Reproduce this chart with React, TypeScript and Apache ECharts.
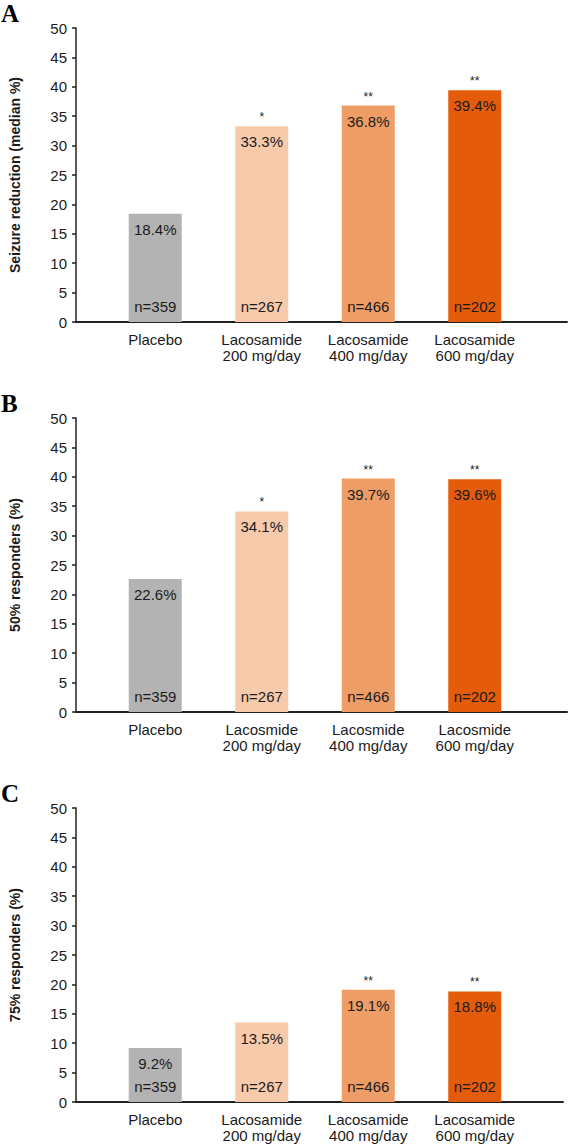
import React, { useEffect, useRef } from "react";
import * as echarts from "echarts";

const panelLetters = ["A", "B", "C"];
const yTitles = ["Seizure reduction (median %)", "50% responders (%)", "75% responders (%)"];
const categoriesA = ["Placebo", "Lacosamide\n200 mg/day", "Lacosamide\n400 mg/day", "Lacosamide\n600 mg/day"];
const categoriesB = ["Placebo", "Lacosmide\n200 mg/day", "Lacosmide\n400 mg/day", "Lacosmide\n600 mg/day"];
const categoriesC = ["Placebo", "Lacosamide\n200 mg/day", "Lacosamide\n400 mg/day", "Lacosamide\n600 mg/day"];
const valuesA = [18.4, 33.3, 36.8, 39.4];
const valuesB = [22.6, 34.1, 39.7, 39.6];
const valuesC = [9.2, 13.5, 19.1, 18.8];
const sampleSizes = ["n=359", "n=267", "n=466", "n=202"];
const starsA = ["", "*", "**", "**"];
const starsB = ["", "*", "**", "**"];
const starsC = ["", "", "**", "**"];
const yTicks = { min: 0, max: 50, interval: 5 };
const barColors = ["#b3b3b3", "#f8caac", "#ee9d66", "#e35b0b"];

const FONT = '"Liberation Sans", Arial, sans-serif';
const TEXT = "#1a1a1a";

export default function App() {
  const ref = useRef<HTMLDivElement>(null);

  useEffect(() => {
    if (!ref.current) return;
    const chart = echarts.init(ref.current, undefined, { renderer: "svg" });

    const panels = [
      { cats: categoriesA, vals: valuesA, stars: starsA, axisWidth: 504 },
      { cats: categoriesB, vals: valuesB, stars: starsB, axisWidth: 504 },
      { cats: categoriesC, vals: valuesC, stars: starsC, axisWidth: 500 },
    ];
    const step = 390;
    const top0 = 28;
    const h = 294;

    const grid: any[] = [];
    const xAxis: any[] = [];
    const yAxis: any[] = [];
    const series: any[] = [];
    const graphic: any[] = [];

    panels.forEach((p, k) => {
      const top = top0 + k * step;
      grid.push({ left: 63, top, width: p.axisWidth, height: h });
      grid.push({ left: 102, top, width: 426, height: h });

      xAxis.push({
        gridIndex: 2 * k,
        type: "value",
        min: 0,
        max: 1,
        axisLine: { show: true, lineStyle: { color: "#222", width: 2 } },
        axisTick: { show: false },
        axisLabel: { show: false },
        splitLine: { show: false },
      });
      xAxis.push({
        gridIndex: 2 * k + 1,
        type: "category",
        data: p.cats,
        axisLine: { show: false },
        axisTick: { show: false },
        axisLabel: {
          fontFamily: FONT,
          fontSize: 15,
          lineHeight: 16,
          color: TEXT,
          margin: 9,
          interval: 0,
        },
      });
      yAxis.push({
        gridIndex: 2 * k,
        type: "value",
        min: yTicks.min,
        max: yTicks.max,
        interval: yTicks.interval,
        name: yTitles[k],
        nameLocation: "middle",
        nameGap: 54,
        nameTextStyle: { fontFamily: FONT, fontSize: 14, fontWeight: "bold", color: TEXT },
        axisLine: { show: true, lineStyle: { color: "#222", width: 1.5 } },
        axisTick: { show: true, inside: false, length: 4, lineStyle: { color: "#222", width: 1.5 } },
        axisLabel: { fontFamily: FONT, fontSize: 15, color: TEXT, margin: 9 },
        splitLine: { show: false },
      });
      yAxis.push({
        gridIndex: 2 * k + 1,
        type: "value",
        min: yTicks.min,
        max: yTicks.max,
        interval: yTicks.interval,
        show: false,
      });

      const common = {
        type: "bar",
        xAxisIndex: 2 * k + 1,
        yAxisIndex: 2 * k + 1,
        barWidth: 53,
        barGap: "-100%",
        silent: true,
      };
      series.push({
        ...common,
        z: 2,
        data: p.vals.map((v, i) => ({ value: v, itemStyle: { color: barColors[i] } })),
        label: {
          show: true,
          position: "insideTop",
          distance: 8,
          fontFamily: FONT,
          fontSize: 15,
          color: TEXT,
          formatter: (d: any) => `${d.value.toFixed(1)}%`,
        },
      });
      series.push({
        ...common,
        z: 3,
        data: p.vals.map((v) => ({ value: v, itemStyle: { color: "rgba(0,0,0,0)" } })),
        label: {
          show: true,
          position: "insideBottom",
          distance: 8,
          fontFamily: FONT,
          fontSize: 15,
          color: TEXT,
          formatter: (d: any) => sampleSizes[d.dataIndex],
        },
      });
      series.push({
        ...common,
        z: 3,
        data: p.vals.map((v) => ({ value: v, itemStyle: { color: "rgba(0,0,0,0)" } })),
        label: {
          show: true,
          position: "top",
          distance: 3,
          fontFamily: FONT,
          fontSize: 12,
          color: TEXT,
          formatter: (d: any) => p.stars[d.dataIndex],
        },
      });

      graphic.push({
        type: "text",
        left: 1,
        top: top - 27,
        style: {
          text: panelLetters[k],
          font: 'bold 25px "Liberation Serif", "Times New Roman", serif',
          fill: "#000",
        },
      });
    });

    chart.setOption({
      animation: false,
      backgroundColor: "#fff",
      grid,
      xAxis,
      yAxis,
      series,
      graphic,
    });

    return () => chart.dispose();
  }, []);

  return (
    <div
      ref={ref}
      style={{ position: "absolute", left: 0, top: 0, width: 569, height: 1144 }}
    />
  );
}
